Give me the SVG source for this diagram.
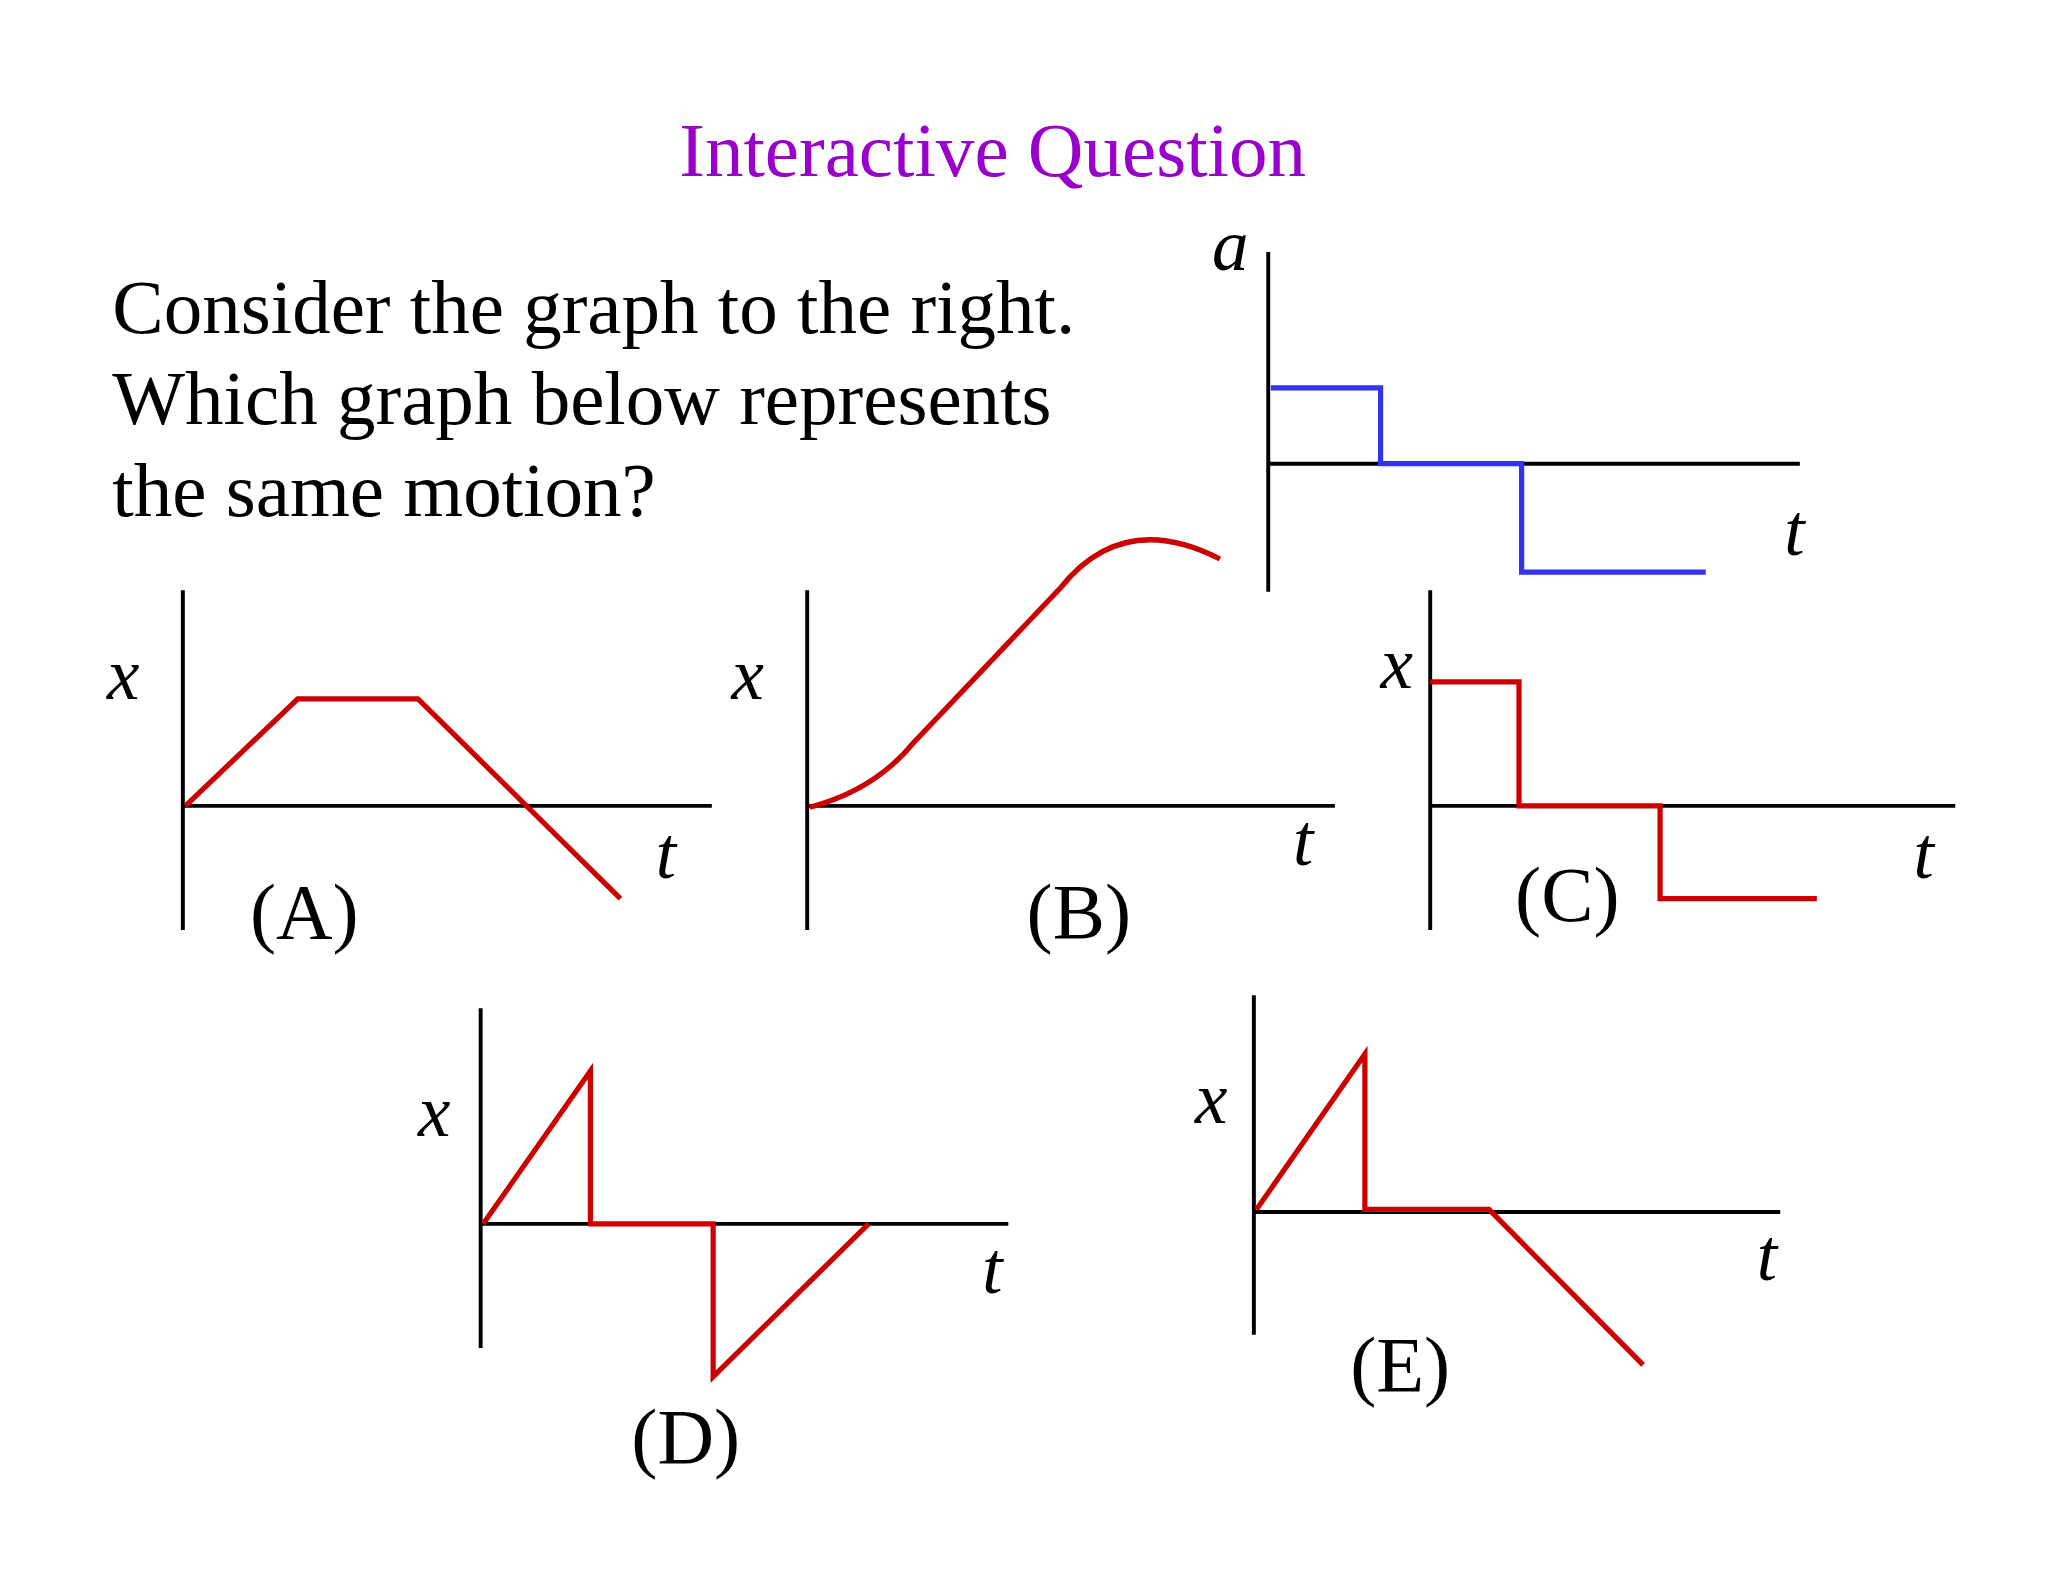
<svg xmlns="http://www.w3.org/2000/svg" width="2048" height="1582" viewBox="0 0 2048 1582">
<style>
.ax{stroke:#000;stroke-width:3;fill:none}
.r{stroke:#cc0000;stroke-width:4;fill:none;stroke-linejoin:miter}
.b{stroke:#3333ee;stroke-width:4;fill:none}
.t{font-family:"Liberation Serif",serif;fill:#000}
.i{font-family:"Liberation Serif",serif;font-style:italic;font-size:56px;fill:#000}
.l{font-family:"Liberation Serif",serif;font-size:60px;fill:#000;text-anchor:middle}
</style>
<rect width="2048" height="1582" fill="#fff"/>
<g transform="scale(1.30612)">
<text x="760" y="135" class="t" font-size="59" style="fill:#9900cc" text-anchor="middle">Interactive Question</text>
<g id="question" class="t" font-size="59">
<text x="86" y="255">Consider the graph to the right.</text>
<text x="86" y="325">Which graph below represents</text>
<text x="86" y="395">the same motion?</text>
</g>
<g id="graphA0">
<path class="ax" d="M971 193V453M971 355H1378"/>
<path class="b" d="M973 297H1057V355H1165V438H1306"/>
<text x="928" y="207" class="i">a</text><text x="1366" y="425" class="i">t</text>
</g>
<g id="graphA">
<path class="ax" d="M140 452V712M140 617H545"/>
<path class="r" d="M142 617L228 535H320L475 688"/>
<text x="82" y="535" class="i">x</text><text x="502" y="672" class="i">t</text>
<text x="233" y="718" class="l">(A)</text>
</g>
<g id="graphB">
<path class="ax" d="M618 452V712M618 617H1022"/>
<path class="r" d="M620 618Q670 605 700 568L812 450Q860 390 934 428"/>
<text x="560" y="535" class="i">x</text><text x="990" y="662" class="i">t</text>
<text x="826" y="718" class="l">(B)</text>
</g>
<g id="graphC">
<path class="ax" d="M1095 452V712M1095 617H1497"/>
<path class="r" d="M1095 522H1163V617H1271V688H1391"/>
<text x="1057" y="527" class="i">x</text><text x="1465" y="672" class="i">t</text>
<text x="1200" y="705" class="l">(C)</text>
</g>
<g id="graphD">
<path class="ax" d="M368 772V1032M368 937H772"/>
<path class="r" d="M370 937L452 820V937H546V1054L665 937"/>
<text x="320" y="870" class="i">x</text><text x="752" y="990" class="i">t</text>
<text x="525" y="1120" class="l">(D)</text>
</g>
<g id="graphE">
<path class="ax" d="M960 762V1022M960 928H1363"/>
<path class="r" d="M962 926L1045 807V926H1140L1258 1045"/>
<text x="915" y="860" class="i">x</text><text x="1345" y="980" class="i">t</text>
<text x="1072" y="1065" class="l">(E)</text>
</g>
</g>
</svg>
